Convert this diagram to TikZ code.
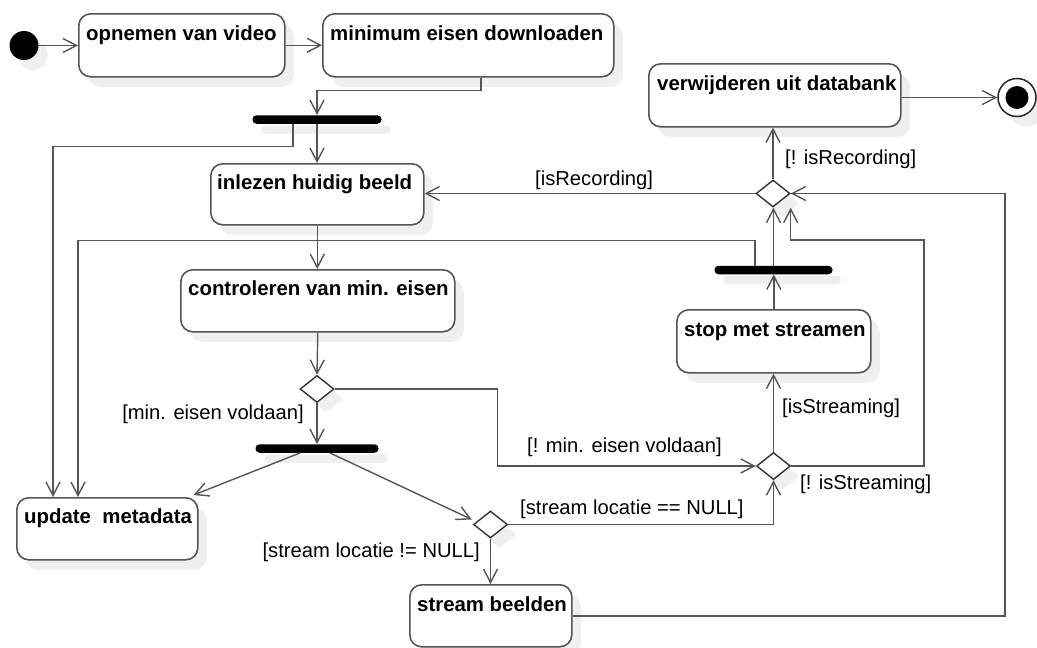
\documentclass[tikz,border=0pt]{standalone}
\usepackage{fontspec}
\setmainfont{Liberation Sans}
\usetikzlibrary{arrows.meta,shapes.geometric,shadows,calc}
\definecolor{edgegray}{HTML}{555555}
\definecolor{shadowgray}{HTML}{EFEFEF}
\begin{document}
\begin{tikzpicture}[x=1pt,y=-1pt,
  softshadow/.style={drop shadow={shadow xshift=9pt,shadow yshift=-10pt,opacity=1,fill=shadowgray}},
  actbox/.style={softshadow,rectangle,draw=edgegray,line width=1.6pt,fill=white,
    rounded corners=12pt,anchor=north west,inner sep=0pt},
  acttitle/.style={anchor=base west,inner sep=0pt,font=\fontsize{20.4}{24}\selectfont\bfseries},
  guard/.style={inner sep=0pt,font=\fontsize{20.2}{24}\selectfont},
  forkbar/.style={softshadow,rectangle,fill=black,rounded corners=4pt,minimum height=8.5pt,inner sep=0pt},
  choice/.style={softshadow,diamond,draw=black!80,line width=1.4pt,fill=white,
    minimum width=34pt,minimum height=27pt,inner sep=0pt},
  flow/.style={draw=edgegray,line width=1.4pt,-{Straight Barb[length=13.5pt,width=14pt]}},
]
\useasboundingbox (0,0) rectangle (1037,648);

% start and final states
\node[softshadow,circle,fill=black,minimum size=29pt,inner sep=0pt] (start) at (24,45.5) {};
\node[softshadow,circle,draw=black!85,line width=1.5pt,fill=white,minimum size=38pt,inner sep=0pt] (final) at (1017,97.5) {};
\fill (final.center) circle[radius=11.5pt];

% actions
\node[actbox,minimum width=206pt,minimum height=63pt] (B1) at (78,13) {};
\node[acttitle] (B1t) at ($(B1.north west)+(8,27)$) {opnemen van video};
\node[actbox,minimum width=291pt,minimum height=63pt] (B2) at (322,13) {};
\node[acttitle] (B2t) at ($(B2.north west)+(8,27)$) {minimum eisen downloaden};
\node[actbox,minimum width=252pt,minimum height=63pt] (B8) at (648,63) {};
\node[acttitle] (B8t) at ($(B8.north west)+(9,27)$) {verwijderen uit databank};
\node[actbox,minimum width=213pt,minimum height=61pt] (B3) at (210,163) {};
\node[acttitle] (B3t) at ($(B3.north west)+(7,26)$) {inlezen huidig beeld};
\node[actbox,minimum width=274pt,minimum height=62pt] (B4) at (180,269) {};
\node[acttitle] (B4t) at ($(B4.north west)+(8,26)$) {controleren van min. eisen};
\node[actbox,minimum width=181pt,minimum height=62pt] (B5) at (16,497) {};
\node[acttitle] (B5t) at ($(B5.north west)+(8,26.5)$) {update\ \ metadata};
\node[actbox,minimum width=162pt,minimum height=62pt] (B6) at (409,584) {};
\node[acttitle] (B6t) at ($(B6.north west)+(8,27)$) {stream beelden};
\node[actbox,minimum width=194pt,minimum height=63pt] (B7) at (676,309) {};
\node[acttitle] (B7t) at ($(B7.north west)+(8,27)$) {stop met streamen};

% fork bars
\node[forkbar,minimum width=129pt] (bar1) at (317,119.5) {};
\node[forkbar,minimum width=123pt] (bar2) at (317,448.5) {};
\node[forkbar,minimum width=118pt] (bar3) at (773.5,270) {};

% decisions
\node[choice] (D1) at (317,389) {};
\node[choice] (D2) at (490.5,524.5) {};
\node[choice] (D3) at (773.5,466) {};
\node[choice] (D4) at (773,193.5) {};

% bend points of the long loops
\coordinate (bendA) at (497.5,466);
\coordinate (loopR) at (924,240);
\coordinate (retL) at (78,240.5);
\coordinate (farR) at (1005,193.5);

% control flow
\draw[flow] (start.east) -- (start.east -| B1.west);
\draw[flow] (B1.east) -- (B2.west);
\draw[flow] ($(B2.south)+(12.5,0)$) -- ++(0,13) -| (bar1.north);
\draw[flow] (bar1.south) -- (bar1.south |- B3.north);
\draw[flow] ($(bar1.south)+(-24,0)$) -- ++(0,22.5) -| ($(B5.north west)+(37,0)$);
\draw[flow] (B3.south) -- (B3.south |- B4.north);
\draw[flow] (B4.south) -- (D1.north);
\draw[flow] (D1.south) -- (bar2.north);
\draw[flow] (D1.east) -| (bendA) -- (D3.west);
\draw[flow] ($(bar2.south)+(-17,0)$) -- ($(B5.north east)+(-5,-2)$);
\draw[flow] ($(bar2.south)+(13,0)$) -- ($(D2.west)+(-1,-5)$);
\draw[flow] (D2.south) -- (D2.south |- B6.north);
\draw[flow] (D2.east) -| (D3.south);
\draw[flow] (D3.north) -- (D3.north |- B7.south);
\draw[flow] (D3.east) -| (loopR) -| (D4.east |- D4.south);
\draw[flow] (B7.north) -- (B7.north |- bar3.south);
\draw[flow] (bar3.north) -- (bar3.north |- D4.south);
\draw[flow] ($(bar3.north)+(-18.5,0)$) |- (retL) -- (retL |- B5.north);
\draw[flow] (D4.west) -- (D4.west -| B3.east);
\draw[flow] (D4.north) -- (D4.north |- B8.south);
\draw[flow] (B8.east |- final.west) -- (final.west);
\draw[flow] (B6.east) -| (farR) -- (D4.east);

% guards
\node[guard,anchor=east] (g1) at (304,414) {[min. eisen voldaan]};
\node[guard,anchor=west] (g2) at (527,447) {[! min. eisen voldaan]};
\node[guard,anchor=east] (g3) at (480,552) {[stream locatie != NULL]};
\node[guard,anchor=west] (g4) at (520,509) {[stream locatie == NULL]};
\node[guard,anchor=west] (g5) at (782,408) {[isStreaming]};
\node[guard,anchor=west] (g6) at (800,484) {[! isStreaming]};
\node[guard,anchor=west] (g7) at (535,180) {[isRecording]};
\node[guard,anchor=west] (g8) at (785,159) {[! isRecording]};
\end{tikzpicture}
\end{document}
